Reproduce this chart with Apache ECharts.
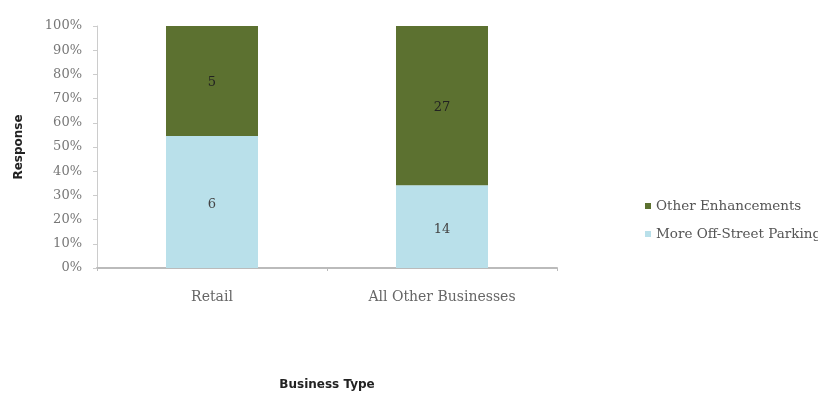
<!DOCTYPE html>
<html>
<head>
<meta charset="utf-8">
<script src="https://cdn.jsdelivr.net/npm/echarts@6/dist/echarts.min.js"></script>
<style>
  html, body { margin: 0; padding: 0; background: #fff; }
  #chart { width: 818px; height: 398px; }
</style>
</head>
<body>
<div id="chart"></div>
<script>
// Survey responses by business type
const categories = ['Retail', 'All Other Businesses'];
const parkingCounts = [6, 14];       // More Off-Street Parking
const otherCounts = [5, 27];         // Other Enhancements
const yTickLabels = ['0%', '10%', '20%', '30%', '40%', '50%', '60%', '70%', '80%', '90%', '100%'];

const totals = categories.map((_, i) => parkingCounts[i] + otherCounts[i]);
const toShare = (arr) => arr.map((v, i) => ({ value: v / totals[i] * 100, count: v }));

const serif = '"DejaVu Serif", "Liberation Serif", serif';
const sansBold = '"DejaVu Sans", "Open Sans", sans-serif';

const chart = echarts.init(document.getElementById('chart'));
chart.setOption({
  animation: false,
  grid: { left: 97, right: 261, top: 26, bottom: 130 },
  legend: {
    orient: 'vertical',
    left: 640,
    top: 194,
    itemWidth: 6,
    itemHeight: 6,
    itemGap: 14,
    icon: 'rect',
    textStyle: { fontFamily: serif, fontSize: 13.5, lineHeight: 14, color: '#555' },
    data: ['Other Enhancements', 'More Off-Street Parking']
  },
  xAxis: {
    type: 'category',
    data: categories,
    name: 'Business Type',
    nameLocation: 'middle',
    nameGap: 111,
    nameTextStyle: { fontFamily: sansBold, fontWeight: 'bold', fontSize: 12, color: '#222' },
    axisLine: { lineStyle: { color: '#bbb', width: 2 } },
    axisTick: { show: true, length: 3, lineStyle: { color: '#bbb' } },
    axisLabel: { fontFamily: serif, fontSize: 14, color: '#666', margin: 22 }
  },
  yAxis: {
    type: 'value',
    min: 0,
    max: 100,
    interval: 10,
    name: 'Response',
    nameLocation: 'middle',
    nameGap: 72,
    nameRotate: 90,
    nameTextStyle: { fontFamily: sansBold, fontWeight: 'bold', fontSize: 12, color: '#222' },
    splitLine: { show: false },
    axisLine: { show: true, lineStyle: { color: '#ccc' } },
    axisTick: { show: true, length: 4, lineStyle: { color: '#ccc' } },
    axisLabel: {
      fontFamily: serif, fontSize: 13, color: '#777', margin: 15,
      formatter: (v) => yTickLabels[Math.round(v / 10)]
    }
  },
  series: [
    {
      name: 'More Off-Street Parking',
      type: 'bar',
      stack: 'share',
      barWidth: '40%',
      data: toShare(parkingCounts),
      itemStyle: { color: '#b9e0ea' },
      label: {
        show: true, position: 'inside', offset: [0, 3],
        fontFamily: serif, fontSize: 13, color: '#444',
        formatter: (p) => p.data.count
      }
    },
    {
      name: 'Other Enhancements',
      type: 'bar',
      stack: 'share',
      barWidth: '40%',
      data: toShare(otherCounts),
      itemStyle: { color: '#5c7130' },
      label: {
        show: true, position: 'inside', offset: [0, 2],
        fontFamily: serif, fontSize: 13, color: '#222',
        formatter: (p) => p.data.count
      }
    }
  ]
});
</script>
</body>
</html>
